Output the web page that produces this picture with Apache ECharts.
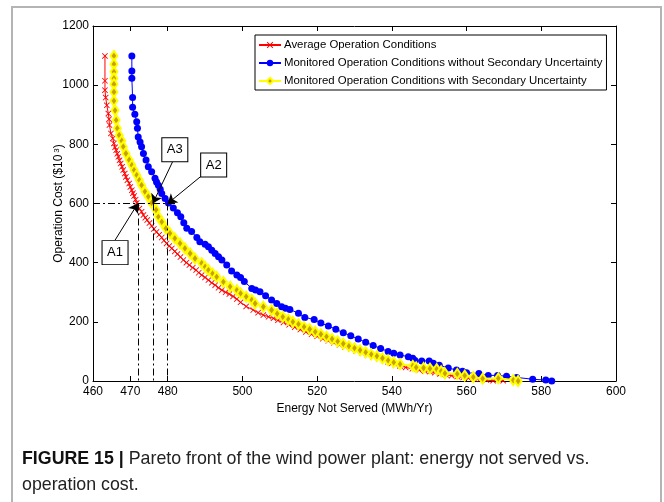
<!DOCTYPE html>
<html><head><meta charset="utf-8">
<script src="https://cdn.jsdelivr.net/npm/echarts@6/dist/echarts.min.js"></script>
<style>html,body{margin:0;padding:0;background:#fff}#c{width:664px;height:502px}</style>
</head><body><div id="c"></div>
<script>
const seriesNames = [
  'Average Operation Conditions',
  'Monitored Operation Conditions without Secondary Uncertainty',
  'Monitored Operation Conditions with Secondary Uncertainty'
];
const xTicks = [460, 470, 480, 500, 520, 540, 560, 580, 600];
const yTicks = [0, 200, 400, 600, 800, 1000, 1200];

const avgData = [[463.2,1099],[463.2,1015],[463.2,983],[463.4,958],[463.7,932],[464.1,904],[464.3,885],[464.4,865],[464.8,837],[465.3,820],[465.6,803],[465.9,790],[466.2,780],[466.5,768],[466.8,758],[467.1,746],[467.4,735],[467.8,724],[468.1,713],[468.5,701],[468.8,690],[469.2,679],[469.7,668],[470.0,656],[470.4,645],[470.7,635],[471.0,625],[471.4,613],[471.7,602],[472.4,583],[473.0,572],[473.5,561],[474.0,552],[474.5,544],[475.1,534],[475.7,524],[476.3,514],[477.0,504],[477.7,494],[478.4,485],[479.0,475],[479.7,465],[480.4,456],[481.1,448],[481.9,438],[482.6,429],[483.4,419],[484.2,409],[485.0,400],[485.8,392],[486.7,383],[487.6,375],[488.3,366],[489.1,358],[490.0,350],[490.9,341],[491.8,332],[492.7,324],[493.6,315],[494.5,307],[495.5,300],[496.5,294],[497.5,286],[498.5,277],[499.5,266],[501.0,252],[502.9,240],[504.2,231],[505.6,223],[507.0,217],[508.3,212],[509.5,205],[511.0,198],[512.5,190],[514.0,182],[515.5,174],[517.0,166],[518.5,158],[520.0,151],[521.5,143],[523.0,136],[524.5,129],[526.0,122],[527.5,115],[529.0,108],[530.5,101],[532.0,95],[533.5,88],[535.0,82],[536.5,76],[538.0,70],[539.0,65],[540.0,60],[541.0,55],[542.2,51],[543.7,46],[545.5,41],[547.3,37],[548.8,34],[550.2,32],[551.5,28],[552.9,24],[554.5,21],[556.0,18],[557.5,15],[559.1,12],[560.5,10],[562.0,8],[563.6,6],[565.3,3],[567.1,1],[569.8,1]];

const noSecData = [[470.4,1099],[470.4,1048],[470.4,1023],[470.6,958],[470.6,925],[471.2,902],[471.7,876],[471.9,854],[472.1,825],[472.6,808],[473.0,792],[473.5,769],[474.2,747],[474.8,724],[475.7,707],[476.6,685],[477.0,673],[477.5,662],[478.0,648],[478.4,634],[479.3,617],[480.2,602],[481.5,585],[482.6,569],[483.5,555],[484.3,535],[485.1,516],[486.4,505],[487.8,485],[488.6,471],[490.0,462],[490.9,454],[491.8,442],[492.7,431],[493.6,420],[494.5,409],[495.8,392],[497.1,372],[498.5,358],[499.5,350],[500.5,336],[502.5,313],[503.5,308],[504.7,302],[506.2,288],[507.8,274],[509.2,262],[510.5,251],[511.5,246],[512.7,242],[515.0,229],[516.7,215],[519.2,208],[521.0,196],[523.0,186],[525.0,175],[527.0,163],[529.0,153],[531.0,142],[533.0,131],[535.0,120],[537.0,110],[539.0,100],[540.5,94],[542.2,88],[544.4,82],[545.6,77],[546.2,69],[548.0,68],[550.0,68],[551.1,60],[552.7,53],[555.1,44],[557.3,37],[558.9,33],[560.0,28],[563.3,25],[565.8,19],[568.3,19],[570.7,16],[573.4,12],[577.7,6],[581.2,3],[582.8,0]];

const withSecData = [[465.6,1099],[465.6,1071],[465.6,1045],[465.6,1023],[465.6,1003],[465.6,977],[465.6,947],[465.9,915],[466.2,882],[466.5,854],[467.0,831],[467.7,812],[468.1,792],[468.8,769],[469.7,747],[470.4,730],[471.0,713],[471.7,696],[472.4,679],[473.0,662],[473.9,640],[474.8,623],[475.7,602],[476.9,578],[477.5,555],[478.4,538],[479.5,516],[480.6,499],[481.9,482],[483.3,465],[484.6,448],[486.0,431],[487.3,414],[489.1,398],[490.0,386],[490.9,375],[492.0,363],[493.1,352],[494.9,335],[496.7,319],[498.5,307],[499.5,296],[501.0,285],[502.5,274],[503.4,262],[505.6,251],[507.8,240],[509.3,228],[510.8,217],[512.3,208],[513.5,200],[515.0,192],[516.5,183],[518.0,175],[519.5,166],[521.0,158],[522.5,150],[524.0,142],[525.5,134],[527.0,126],[528.5,118],[530.0,111],[531.5,104],[533.0,97],[534.5,90],[536.0,84],[537.5,77],[539.0,70],[540.5,63],[542.2,57],[545.6,51],[546.5,46],[548.5,44],[550.2,42],[552.0,40],[553.2,33],[554.2,26],[557.5,24],[559.5,18],[561.8,13],[564.3,8],[568.5,9],[572.5,3],[573.8,0]];

// annotation points (A1, A2, A3) and label box positions in data coordinates
const pointLabels = ['A1', 'A2', 'A3'];
const pointXs = [472, 480, 476];
const pointY = 600;
const boxPos = [[465.9, 434], [492.3, 730], [481.9, 782]];
const arrowStart = [[465.9, 476], [489.1, 694], [481.3, 741]];

const FONT = 'Arial, "Liberation Sans", Helvetica, sans-serif';
const xSymbol = 'path://M0,1 L1,0 L5,4 L9,0 L10,1 L6,5 L10,9 L9,10 L5,6 L1,10 L0,9 L4,5 Z';
const dashDot = [7, 3, 2, 3];

const markLineData = [
  [{coord: [460, pointY], lineStyle: {type: dashDot}}, {coord: [482, pointY]}]
];
pointXs.forEach(function (px) {
  markLineData.push([{coord: [px, pointY], lineStyle: {type: dashDot}}, {coord: [px, 0]}]);
});
pointLabels.forEach(function (l, i) {
  markLineData.push([{coord: arrowStart[i], symbol: 'none', lineStyle: {type: 'solid'}},
                     {coord: [pointXs[i], pointY], symbol: 'arrow'}]);
});
const markPointData = pointLabels.map(function (l, i) {
  return {coord: boxPos[i], value: l};
});

const chart = echarts.init(document.getElementById('c'), null, {renderer: 'canvas'});
chart.setOption({
  animation: false,
  backgroundColor: '#fff',
  textStyle: {fontFamily: FONT},
  title: {
    left: 22, top: 446, padding: 0,
    text: '{b|FIGURE 15 |} Pareto front of the wind power plant: energy not served vs.\noperation cost.',
    textStyle: {
      fontFamily: FONT, fontSize: 17.8, fontWeight: 'normal', color: '#222', lineHeight: 26,
      rich: {b: {fontFamily: FONT, fontSize: 17.8, fontWeight: 'bold', color: '#111', lineHeight: 26}}
    }
  },
  graphic: [{
    type: 'rect', silent: true, z: -1,
    shape: {x: 12, y: 7, width: 649, height: 520},
    style: {fill: 'none', stroke: '#b4b4b4', lineWidth: 2}
  }],
  legend: {
    show: true, orient: 'vertical', left: 255, top: 35,
    backgroundColor: '#fff', borderColor: '#000', borderWidth: 1, borderRadius: 0,
    padding: [3, 4, 2, 3], itemGap: 4, itemWidth: 22, itemHeight: 8,
    textStyle: {fontFamily: FONT, fontSize: 11.4, lineHeight: 14, color: '#000', padding: [0, 0, 0, -2]},
    data: seriesNames
  },
  grid: {left: 93, right: 48, top: 26, bottom: 121, containLabel: false,
         show: false},
  xAxis: [{
    type: 'value', min: 460, max: 600, position: 'bottom',
    name: 'Energy Not Served (MWh/Yr)', nameLocation: 'middle', nameGap: 22, nameMoveOverlap: false,
    nameTextStyle: {fontFamily: FONT, fontSize: 12, color: '#000'},
    axisLine: {show: true, onZero: false, lineStyle: {color: '#000', width: 1}},
    axisTick: {show: true, inside: true, length: 5, customValues: xTicks, lineStyle: {color: '#000'}},
    axisLabel: {show: true, customValues: xTicks, fontFamily: FONT, fontSize: 12, color: '#000', margin: 5,
                formatter: function (v) { return String(v); }},
    splitLine: {show: false}
  }, {
    type: 'value', min: 460, max: 600, position: 'top',
    axisLine: {show: true, onZero: false, lineStyle: {color: '#000', width: 1}},
    axisTick: {show: true, inside: true, length: 5, customValues: xTicks, lineStyle: {color: '#000'}},
    axisLabel: {show: false},
    splitLine: {show: false}
  }],
  yAxis: [{
    type: 'value', min: 0, max: 1200, interval: 200, position: 'left',
    name: 'Operation Cost ($10{sup|3})', nameLocation: 'middle', nameGap: 28, nameRotate: 90,
    nameMoveOverlap: false,
    nameTextStyle: {fontFamily: FONT, fontSize: 12, color: '#000',
      rich: {sup: {fontFamily: FONT, fontSize: 8, color: '#000', verticalAlign: 'top', padding: [0, 0, 0, 2]}}},
    axisLine: {show: true, onZero: false, lineStyle: {color: '#000', width: 1}},
    axisTick: {show: true, inside: true, length: 5, lineStyle: {color: '#000'}},
    axisLabel: {show: true, fontFamily: FONT, fontSize: 12, color: '#000', margin: 4,
                formatter: function (v) { return String(v); }},
    splitLine: {show: false}
  }, {
    type: 'value', min: 0, max: 1200, interval: 200, position: 'right',
    axisLine: {show: true, onZero: false, lineStyle: {color: '#000', width: 1}},
    axisTick: {show: true, inside: true, length: 5, lineStyle: {color: '#000'}},
    axisLabel: {show: false},
    splitLine: {show: false}
  }],
  series: [{
    name: seriesNames[0], type: 'line', data: avgData,
    symbol: xSymbol, symbolSize: 6, showAllSymbol: true,
    lineStyle: {color: '#ff0000', width: 1},
    itemStyle: {color: '#ff0000'},
    z: 2,
    markLine: {
      silent: true, symbol: ['none', 'none'], symbolSize: 9, animation: false,
      label: {show: false},
      lineStyle: {color: '#000', width: 1},
      data: markLineData, z: 10
    },
    markPoint: {
      silent: true, symbol: 'rect', symbolSize: [26, 24], animation: false,
      itemStyle: {color: '#fff', borderColor: '#000', borderWidth: 1},
      label: {show: true, position: 'inside', color: '#000', fontFamily: FONT, fontSize: 13,
              formatter: function (p) { return p.value; }},
      data: markPointData, z: 11
    }
  }, {
    name: seriesNames[1], type: 'line', data: noSecData,
    symbol: 'circle', symbolSize: 7, showAllSymbol: true,
    lineStyle: {color: '#0000ff', width: 1},
    itemStyle: {color: '#0000ff'},
    z: 3
  }, {
    name: seriesNames[2], type: 'line', data: withSecData,
    symbol: 'diamond', symbolSize: [7, 10], showAllSymbol: true,
    lineStyle: {color: '#ffff00', width: 2},
    itemStyle: {color: '#c8a000', borderColor: '#ffff00', borderWidth: 2},
    z: 4
  }]
});
</script>
</body></html>
